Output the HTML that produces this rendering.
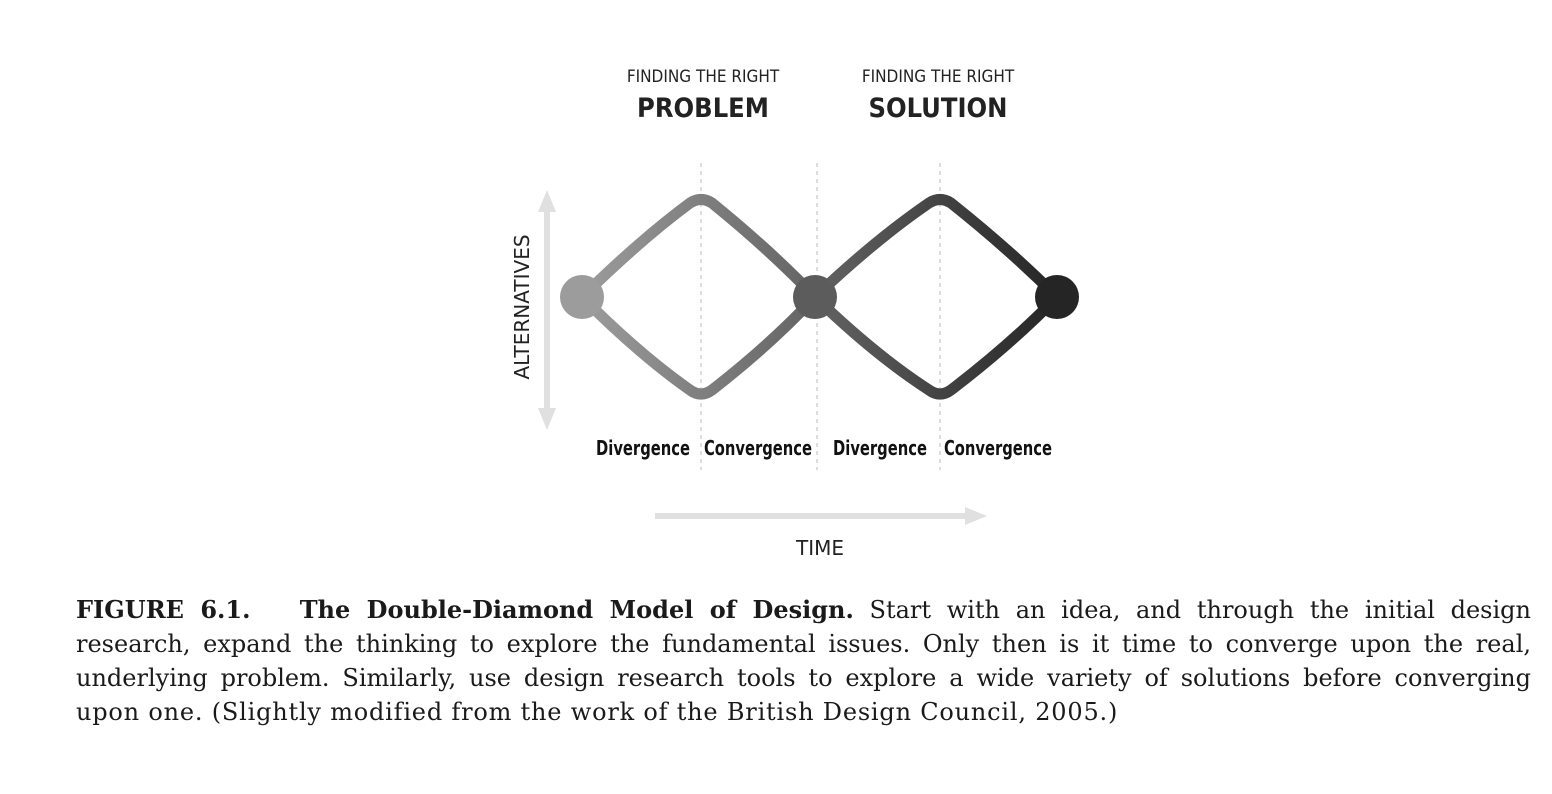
<!DOCTYPE html>
<html><head><meta charset="utf-8"><style>
html,body{margin:0;padding:0;background:#fff;width:1552px;height:794px;overflow:hidden}
svg{position:absolute;left:0;top:0}
.cap{position:absolute;left:76px;top:593px;width:1455px;font-family:"DejaVu Serif","Liberation Serif",serif;font-size:24px;line-height:34px;color:#1a1a1a}
.cap div{text-align:justify;text-align-last:justify;white-space:nowrap}
.cap div.l{text-align-last:left;letter-spacing:0.8px}
.cap b{font-weight:bold}
</style></head><body>
<svg width="1552" height="794" viewBox="0 0 1552 794">
<defs>
<linearGradient id="g" gradientUnits="userSpaceOnUse" x1="582" y1="0" x2="1057" y2="0">
<stop offset="0" stop-color="#9c9c9c"/><stop offset="0.5" stop-color="#626262"/><stop offset="1" stop-color="#252525"/>
</linearGradient>
</defs>
<g font-family="'DejaVu Sans Condensed','Liberation Sans',sans-serif" fill="#222" text-anchor="middle">
<text x="703" y="82" font-size="17">FINDING THE RIGHT</text>
<text x="703" y="117" font-size="27" font-weight="bold">PROBLEM</text>
<text x="938" y="82" font-size="17">FINDING THE RIGHT</text>
<text x="938" y="117" font-size="27" font-weight="bold">SOLUTION</text>
</g>
<g stroke="#bbb" stroke-width="1" stroke-dasharray="4,4">
<line x1="701" y1="163" x2="701" y2="470"/>
<line x1="817" y1="163" x2="817" y2="470"/>
<line x1="940" y1="163" x2="940" y2="470"/>
</g>
<line x1="547" y1="205" x2="547" y2="415" stroke="#e0e0e0" stroke-width="6"/>
<polygon points="547,190 538,212 556,212" fill="#e0e0e0"/>
<polygon points="547,430 538,408 556,408" fill="#e0e0e0"/>
<line x1="655" y1="516" x2="970" y2="516" stroke="#e0e0e0" stroke-width="6"/>
<polygon points="987,516 965,507 965,525" fill="#e0e0e0"/>
<g fill="none" stroke="url(#g)" stroke-width="11" stroke-linejoin="round" stroke-linecap="round">
<path d="M582,297 Q640,240 690,203 Q701,196 712,203 Q770,250 815,297 Q770,345 712,390 Q701,398 690,390 Q640,355 582,297 Z"/>
<path d="M815,297 Q875,240 929,203 Q940,196 951,203 Q1010,250 1057,297 Q1010,345 951,390 Q940,398 929,390 Q875,355 815,297 Z"/>
</g>
<circle cx="582" cy="297" r="22" fill="#9c9c9c"/>
<circle cx="815" cy="297" r="22" fill="#5c5c5c"/>
<circle cx="1057" cy="297" r="22" fill="#252525"/>
<g font-family="'DejaVu Sans Condensed','Liberation Sans Narrow','Liberation Sans',sans-serif" font-size="20" font-weight="bold" fill="#111" text-anchor="middle">
<text x="643" y="455" transform="translate(643 0) scale(0.82 1) translate(-643 0)">Divergence</text>
<text x="758" y="455" transform="translate(758 0) scale(0.82 1) translate(-758 0)">Convergence</text>
<text x="880" y="455" transform="translate(880 0) scale(0.82 1) translate(-880 0)">Divergence</text>
<text x="998" y="455" transform="translate(998 0) scale(0.82 1) translate(-998 0)">Convergence</text>
</g>
<text x="0" y="0" transform="translate(529 307) rotate(-90)" font-family="'DejaVu Sans','Liberation Sans',sans-serif" font-size="20" fill="#222" text-anchor="middle">ALTERNATIVES</text>
<text x="820" y="555" font-family="'DejaVu Sans','Liberation Sans',sans-serif" font-size="20" fill="#222" text-anchor="middle">TIME</text>
</svg>
<div class="cap">
<div><b>FIGURE 6.1.&nbsp;&nbsp; The Double-Diamond Model of Design.</b> Start with an idea, and through the initial design</div>
<div>research, expand the thinking to explore the fundamental issues. Only then is it time to converge upon the real,</div>
<div>underlying problem. Similarly, use design research tools to explore a wide variety of solutions before converging</div>
<div class="l">upon one. (Slightly modified from the work of the British Design Council, 2005.)</div>
</div>
</body></html>
